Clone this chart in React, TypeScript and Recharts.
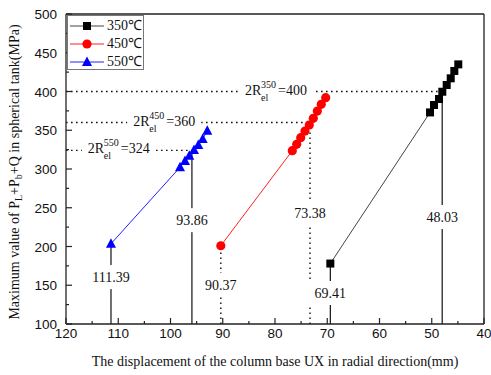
import React from 'react';
import { ScatterChart, Scatter, XAxis, YAxis, ReferenceLine, ReferenceDot } from 'recharts';

const SERIF = '"Liberation Serif", "Times New Roman", serif';
const SANS = '"Liberation Sans", Arial, sans-serif';

// series data: displacement (mm) vs maximum stress (MPa)
const seriesNames = ['350℃', '450℃', '550℃'];
const points350 = [
  { x: 69.41, y: 178 }, { x: 50.33, y: 373 }, { x: 49.57, y: 382.6 }, { x: 48.61, y: 390.3 },
  { x: 47.98, y: 399.7 }, { x: 47.14, y: 408.4 }, { x: 46.37, y: 417 }, { x: 45.68, y: 426.5 },
  { x: 44.92, y: 435 },
];
const points450 = [
  { x: 90.37, y: 201 }, { x: 76.69, y: 323.6 }, { x: 75.85, y: 331.9 }, { x: 75.08, y: 340.4 },
  { x: 74.26, y: 349 }, { x: 73.44, y: 356.8 }, { x: 72.67, y: 365.4 }, { x: 71.9, y: 374.8 },
  { x: 71.14, y: 383.5 }, { x: 70.3, y: 392 },
];
const points550 = [
  { x: 111.39, y: 203.5 }, { x: 98.18, y: 302.2 }, { x: 97.22, y: 310.3 }, { x: 96.4, y: 317.2 },
  { x: 95.5, y: 324.5 }, { x: 94.68, y: 331 }, { x: 93.84, y: 338.7 }, { x: 92.96, y: 349.4 },
];

const xTicks = [40, 45, 50, 55, 60, 65, 70, 75, 80, 85, 90, 95, 100, 105, 110, 115, 120];
const yTicks = [100, 125, 150, 175, 200, 225, 250, 275, 300, 325, 350, 375, 400, 425, 450, 475, 500];

// yield-strength levels 2R_el (horizontal dotted lines)
const yieldTemps = ['350', '450', '550'];
const yieldValues = [400, 360, 324];
const yieldLineEndX = [48.03, 73.3, 95.9];
const yieldLabelX = [79.8, 101.2, 109.9];

// vertical marker lines
const markerLineX = [111.39, 95.9, 90.37, 73.3, 69.41, 48.0];
const markerTopY = [203.5, 324, 201, 360, 178, 400];
const markerLabels = ['111.39', '93.86', '90.37', '73.38', '69.41', '48.03'];
const markerLabelY = [160.6, 234, 150.3, 243, 140, 238];
const markerDotted = [false, false, true, true, false, false];

const markerColors = ['#000000', '#ff0000', '#0000ff'];
const lineColors = ['#444444', '#ff2020', '#2020ff'];

const Marker = ({ kind, cx, cy }: { kind: number; cx: number; cy: number }) => {
  if (kind === 0) return <rect x={cx - 4} y={cy - 4} width={8} height={8} fill={markerColors[0]} />;
  if (kind === 1) return <circle cx={cx} cy={cy} r={4.6} fill={markerColors[1]} />;
  return <polygon points={`${cx},${cy - 5.5} ${cx - 5},${cy + 4} ${cx + 5},${cy + 4}`} fill={markerColors[2]} />;
};

const XTick = (props: any) => {
  const { x, y, payload } = props;
  const v = payload.value;
  const major = v % 10 === 0;
  return (
    <g>
      <line x1={x} x2={x} y1={y} y2={y - (major ? 6 : 3)} stroke="#222" strokeWidth={1.2} />
      {major && (
        <text x={x} y={y + 13.5} textAnchor="middle" fontFamily={SANS} fontSize={13.5} fill="#111">
          {v}
        </text>
      )}
    </g>
  );
};

const YTick = (props: any) => {
  const { x, y, payload } = props;
  const v = payload.value;
  const major = v % 50 === 0;
  return (
    <g>
      <line x1={x} x2={x + (major ? 6 : 3)} y1={y} y2={y} stroke="#222" strokeWidth={1.2} />
      {major && (
        <text x={x - 9} y={y + 5} textAnchor="end" fontFamily={SANS} fontSize={13.5} fill="#111">
          {v}
        </text>
      )}
    </g>
  );
};

const makeNumberLabel = (text: string) => (props: any) => {
  const vb = props.viewBox || {};
  const cx = (vb.x || 0) + (vb.width || 0) / 2;
  const cy = (vb.y || 0) + (vb.height || 0) / 2;
  return (
    <g>
      <rect x={cx - 22} y={cy - 12} width={44} height={24} fill="#fff" />
      <text x={cx} y={cy + 5} textAnchor="middle" fontFamily={SERIF} fontSize={14} fill="#111">
        {text}
      </text>
    </g>
  );
};

const makeYieldLabel = (temp: string, value: number) => (props: any) => {
  const vb = props.viewBox || {};
  const cx = (vb.x || 0) + (vb.width || 0) / 2;
  const cy = (vb.y || 0) + (vb.height || 0) / 2;
  const x0 = cx - 31;
  return (
    <g fontFamily={SERIF} fill="#111">
      <rect x={x0 - 6} y={cy - 9} width={74} height={18} fill="#fff" />
      <text x={x0} y={cy + 3} fontSize={14}>2R</text>
      <text x={x0 + 16} y={cy - 4} fontSize={10}>{temp}</text>
      <text x={x0 + 16} y={cy + 9} fontSize={10}>el</text>
      <text x={x0 + 33} y={cy + 3} fontSize={14}>={value}</text>
    </g>
  );
};

const seriesData = [points350, points450, points550];

export default function App() {
  return (
    <div style={{ position: 'absolute', left: 0, top: 0, width: 491, height: 375, background: '#fff' }}>
      <ScatterChart width={491} height={375} margin={{ top: 14, right: 7, bottom: 0, left: 0 }}>
        <XAxis
          type="number"
          dataKey="x"
          domain={[40, 120]}
          reversed
          ticks={xTicks}
          interval={0}
          height={51}
          tickSize={0}
          tickMargin={0}
          tick={<XTick />}
          axisLine={{ stroke: '#222', strokeWidth: 1.3 }}
          allowDataOverflow
        />
        <YAxis
          type="number"
          dataKey="y"
          domain={[100, 500]}
          ticks={yTicks}
          interval={0}
          width={66}
          tickSize={0}
          tickMargin={0}
          tick={<YTick />}
          axisLine={{ stroke: '#222', strokeWidth: 1.3 }}
          allowDataOverflow
        />
        <ReferenceLine y={500} stroke="#222" strokeWidth={1.3} />
        <ReferenceLine x={40} stroke="#222" strokeWidth={1.3} />
        {yieldValues.map((v, i) => (
          <ReferenceLine
            key={'h' + i}
            segment={[{ x: 120, y: v }, { x: yieldLineEndX[i], y: v }]}
            stroke="#111"
            strokeWidth={1.4}
            strokeDasharray="1.6 3.4"
          />
        ))}
        {markerLineX.map((x, i) => (
          <ReferenceLine
            key={'v' + i}
            segment={[{ x, y: 100 }, { x, y: markerTopY[i] }]}
            stroke="#111"
            strokeWidth={markerDotted[i] ? 1.4 : 1.2}
            strokeDasharray={markerDotted[i] ? '1.6 3.4' : undefined}
          />
        ))}
        {seriesData.map((d, i) => (
          <Scatter
            key={seriesNames[i]}
            name={seriesNames[i]}
            data={d}
            isAnimationActive={false}
            line={{ stroke: lineColors[i], strokeWidth: 1 }}
            shape={(p: any) => <Marker kind={i} cx={p.cx} cy={p.cy} />}
          />
        ))}
        {yieldValues.map((v, i) => (
          <ReferenceDot
            key={'hl' + i}
            x={yieldLabelX[i]}
            y={v}
            r={0}
            fill="none"
            stroke="none"
            label={{ content: makeYieldLabel(yieldTemps[i], v) }}
          />
        ))}
        {markerLineX.map((x, i) => (
          <ReferenceDot
            key={'vl' + i}
            x={x}
            y={markerLabelY[i]}
            r={0}
            fill="none"
            stroke="none"
            label={{ content: makeNumberLabel(markerLabels[i]) }}
          />
        ))}
        <text x={275} y={366} textAnchor="middle" fontFamily={SERIF} fontSize={14} fill="#111">
          The displacement of the column base UX in radial direction(mm)
        </text>
        <text transform="rotate(-90)" x={-172} y={19} textAnchor="middle" fontFamily={SERIF} fontSize={14} fill="#111">
          Maximum value of P<tspan dy={3} fontSize={10}>L</tspan>
          <tspan dy={-3}>+P</tspan>
          <tspan dy={3} fontSize={10}>b</tspan>
          <tspan dy={-3}>+Q in spherical tank(MPa)</tspan>
        </text>
      </ScatterChart>
      <div
        style={{
          position: 'absolute',
          left: 67,
          top: 15,
          width: 77,
          height: 55,
          boxSizing: 'border-box',
          border: '1px solid #777',
          background: '#fff',
          fontFamily: SERIF,
          fontSize: 14,
          color: '#111',
          paddingTop: 1,
        }}
      >
        {seriesNames.map((n, i) => (
          <div key={n} style={{ display: 'flex', alignItems: 'center', height: 18, lineHeight: '18px' }}>
            <svg width={39} height={16} style={{ display: 'block' }}>
              <line x1={2} x2={36} y1={8} y2={8} stroke={lineColors[i]} strokeWidth={1} />
              <Marker kind={i} cx={19} cy={8} />
            </svg>
            <span>{n}</span>
          </div>
        ))}
      </div>
    </div>
  );
}
